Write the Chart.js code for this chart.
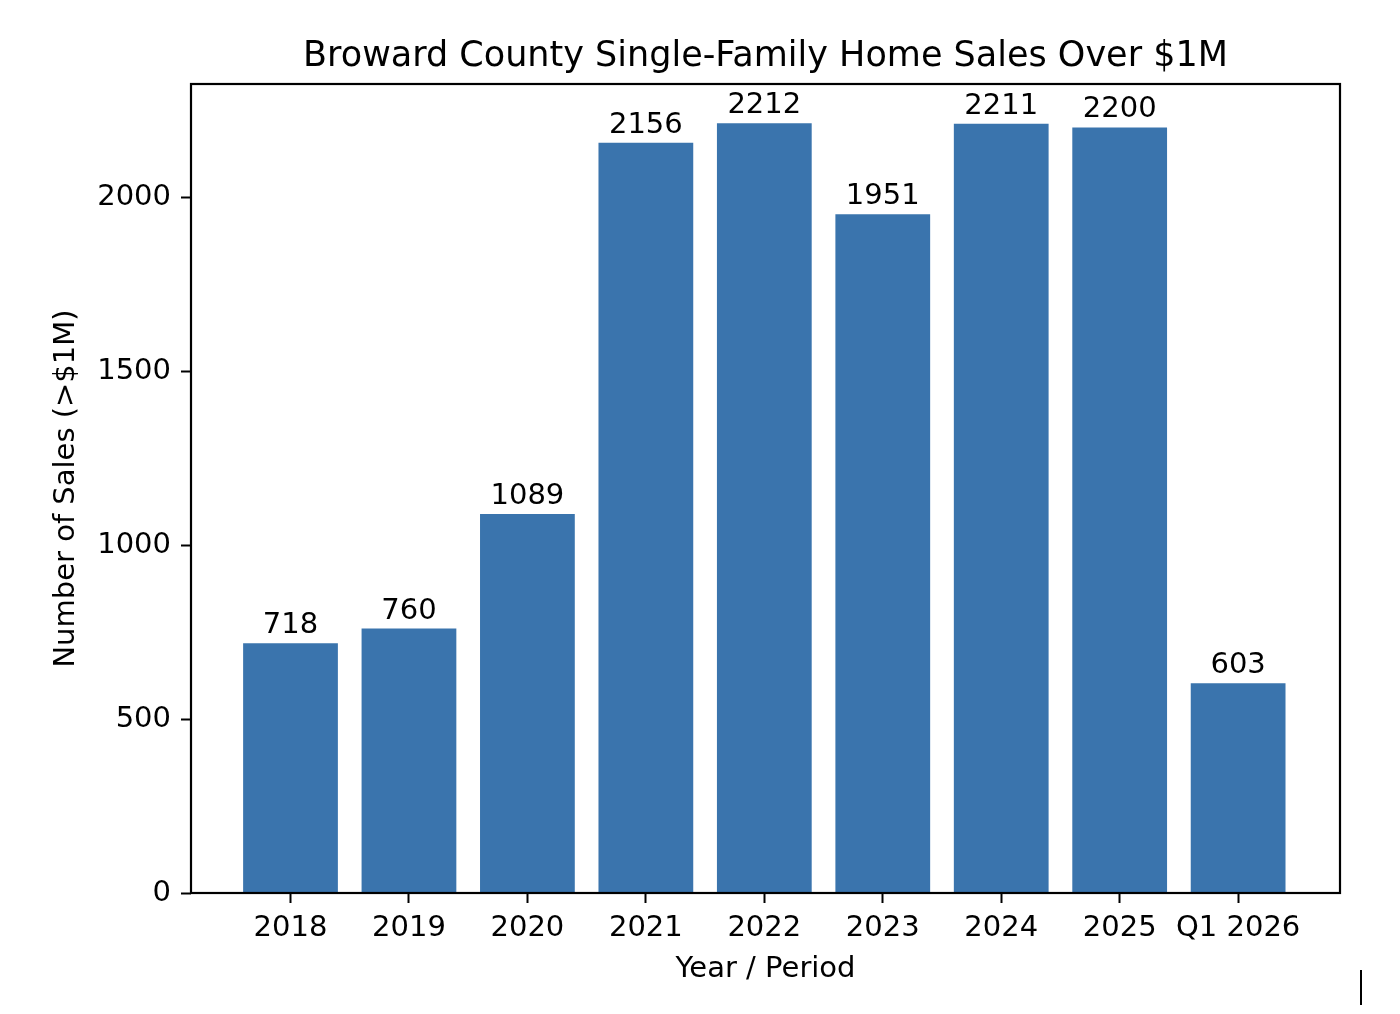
<!DOCTYPE html>
<html>
<head>
<meta charset="utf-8">
<script src="https://cdn.jsdelivr.net/npm/chart.js@4.4.0/dist/chart.umd.min.js"></script>
<style>
  html, body { margin: 0; padding: 0; background: #fff; }
  #wrap { width: 1400px; height: 1014px; }
</style>
</head>
<body>
<div id="wrap"><canvas id="grafico-vendas"></canvas></div>
<script>
// dados
const periodos = ['2018', '2019', '2020', '2021', '2022', '2023', '2024', '2025', 'Q1 2026'];
const vendas = [718, 760, 1089, 2156, 2212, 1951, 2211, 2200, 603];
const ticksY = [0, 500, 1000, 1500, 2000];

const fonte = 'DejaVu Sans';
const corBarra = '#3a74ad';
const tamFonte = 29;

// rótulos em cima das barras
const rotulosBarras = {
    id: 'rotulosBarras',
    afterDatasetsDraw(chart) {
        const ctx = chart.ctx;
        const meta = chart.getDatasetMeta(0);
        ctx.save();
        ctx.font = tamFonte + 'px "' + fonte + '"';
        ctx.fillStyle = '#000';
        ctx.textAlign = 'center';
        ctx.textBaseline = 'alphabetic';
        meta.data.forEach((bar, i) => {
            ctx.fillText(String(vendas[i]), bar.x, bar.y - 10);
        });
        ctx.restore();
    },
    afterDraw(chart) {
        // moldura do gráfico
        const a = chart.chartArea;
        const ctx = chart.ctx;
        ctx.save();
        ctx.strokeStyle = '#000';
        ctx.lineWidth = 2.2;
        ctx.strokeRect(a.left, a.top, a.right - a.left, a.bottom - a.top);
        // cursor no canto
        ctx.lineWidth = 2;
        ctx.beginPath();
        ctx.moveTo(1361, 970);
        ctx.lineTo(1361, 1005);
        ctx.stroke();
        ctx.restore();
    }
};

const ctxVendas = document.getElementById('grafico-vendas').getContext('2d');
const graficoVendas = new Chart(ctxVendas, {
    type: 'bar',
    data: {
        datasets: [{
            label: 'Vendas',
            data: vendas.map((v, i) => ({ x: i, y: v })),
            backgroundColor: corBarra,
            borderWidth: 0,
            barPercentage: 0.8,
            categoryPercentage: 1
        }]
    },
    options: {
        responsive: true,
        maintainAspectRatio: false,
        animation: false,
        devicePixelRatio: 1,
        layout: { padding: { left: 0, right: 60, top: 0, bottom: 0 } },
        plugins: {
            legend: { display: false },
            tooltip: { enabled: false },
            title: {
                display: true,
                fullSize: false,
                text: 'Broward County Single-Family Home Sales Over $1M',
                color: '#000',
                font: { family: fonte, size: 35, weight: 'normal', lineHeight: 1.2 },
                padding: { top: 36, bottom: 6 }
            }
        },
        scales: {
            x: {
                type: 'linear',
                offset: false,
                min: -0.84,
                max: 8.86,
                afterBuildTicks(scale) {
                    scale.ticks = periodos.map((p, i) => ({ value: i }));
                },
                afterFit(scale) { scale.height = 121; },
                grid: { display: true, drawOnChartArea: false, drawTicks: true, tickLength: 10, tickColor: '#000', tickWidth: 2, offset: false },
                border: { display: false },
                ticks: {
                    color: '#000',
                    font: { family: fonte, size: tamFonte },
                    padding: 8,
                    maxRotation: 0,
                    autoSkip: false,
                    callback: (v) => periodos[v]
                },
                title: {
                    display: true,
                    text: 'Year / Period',
                    color: '#000',
                    font: { family: fonte, size: tamFonte },
                    padding: { top: 27, bottom: 27 }
                }
            },
            y: {
                min: 0,
                max: 2325,
                afterBuildTicks(scale) {
                    scale.ticks = ticksY.map(v => ({ value: v }));
                },
                afterFit(scale) { scale.width = 191; },
                grid: { display: true, drawOnChartArea: false, drawTicks: true, tickLength: 10, tickColor: '#000', tickWidth: 2 },
                border: { display: false },
                ticks: {
                    color: '#000',
                    font: { family: fonte, size: tamFonte },
                    padding: 10,
                    callback: (v) => String(v)
                },
                title: {
                    display: true,
                    text: 'Number of Sales (>$1M)',
                    color: '#000',
                    font: { family: fonte, size: tamFonte },
                    padding: { top: 49, bottom: 49 }
                }
            }
        }
    },
    plugins: [rotulosBarras]
});
</script>
</body>
</html>
